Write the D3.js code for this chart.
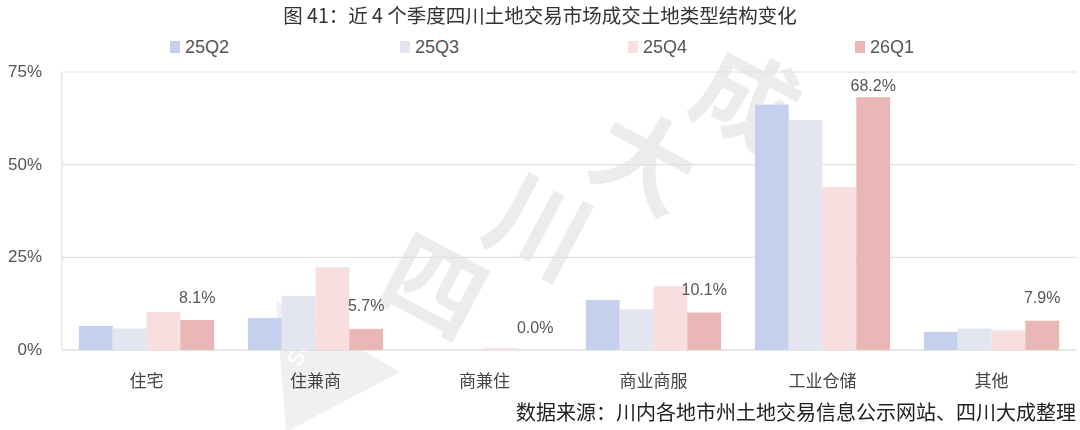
<!DOCTYPE html>
<html><head><meta charset="utf-8">
<script src="https://cdn.jsdelivr.net/npm/d3@7"></script>
<style>
html,body{margin:0;padding:0;background:#fff;}
svg{display:block;font-family:"Liberation Sans","Noto Sans CJK SC",sans-serif;}
</style></head>
<body><svg id="c" width="1080" height="430"></svg>
<script>
const categories = ["住宅","住兼商","商兼住","商业商服","工业仓储","其他"];
const seriesNames = ["25Q2","25Q3","25Q4","26Q1"];
const s25Q2 = [6.5, 8.6, 0.0, 13.5, 66.2, 4.9];
const s25Q3 = [5.8, 14.6, 0.2, 11.0, 62.0, 5.8];
const s25Q4 = [10.2, 22.3, 0.5, 17.2, 44.0, 5.3];
const s26Q1 = [8.1, 5.7, 0.0, 10.1, 68.2, 7.9];
const yTicks = [0, 25, 50, 75];
const colors = ["#c5d1ec", "#e3e5f1", "#f8dede", "#eab6b6"];
const seriesData = [s25Q2, s25Q3, s25Q4, s26Q1];
const watermarkChars = ["四","川","大","成"];

const svg = d3.select("#c");
const mLeft = 62, mRight = 1076, mTop = 72, mBottom = 350;

// watermark (faint logo)
const wm = svg.append("g").attr("fill", "#000").attr("opacity", 0.075);
wm.append("polygon").attr("points", "276,300 400,372 286,432").attr("opacity", 0.8);
wm.append("text").attr("transform", "translate(305,345) rotate(-62)")
  .attr("text-anchor", "middle").attr("dominant-baseline", "middle")
  .attr("font-size", 22).attr("font-weight", "bold").attr("fill", "#fff").attr("opacity", 0.9)
  .text("SCD");
const wmPos = [[430, 295], [535, 235], [640, 170], [742, 108]];
wm.selectAll("text.wc").data(watermarkChars).join("text").attr("class", "wc")
  .attr("transform", (d, i) => `translate(${wmPos[i][0]},${wmPos[i][1]}) rotate(28)`)
  .attr("text-anchor", "middle").attr("dominant-baseline", "middle")
  .attr("font-size", 100).attr("font-weight", "bold")
  .attr("font-family", "Noto Sans CJK SC")
  .text(d => d);

const x0 = d3.scaleBand().domain(categories).range([mLeft, mRight]).paddingInner(0.2).paddingOuter(0.1);
const x1 = d3.scaleBand().domain(seriesNames).range([0, x0.bandwidth()]);
const y = d3.scaleLinear().domain([0, 75]).range([mBottom, mTop]);

// grid
svg.append("g").selectAll("line").data(yTicks).join("line")
  .attr("x1", mLeft).attr("x2", mRight).attr("y1", d => y(d)).attr("y2", d => y(d))
  .attr("stroke", d => d === 0 ? "#cfcfcf" : "#e0e0e0").attr("stroke-width", 1.2);
// left axis line
svg.append("line").attr("x1", mLeft).attr("x2", mLeft).attr("y1", mTop).attr("y2", mBottom)
  .attr("stroke", "#e0e0e0").attr("stroke-width", 1.2);

// y labels
svg.append("g").selectAll("text").data(yTicks).join("text")
  .attr("x", 42).attr("y", d => y(d) - 1).attr("dy", "0.35em")
  .attr("text-anchor", "end").attr("font-size", 17).attr("fill", "#555")
  .text(d => d + "%");

// bars
seriesData.forEach((vals, si) => {
  svg.append("g").selectAll("rect").data(vals).join("rect")
    .attr("x", (d, i) => x0(categories[i]) + x1(seriesNames[si]))
    .attr("width", x1.bandwidth())
    .attr("y", d => y(d))
    .attr("height", d => mBottom - y(d))
    .attr("fill", colors[si]);
});

// labels for 26Q1
svg.append("g").selectAll("text").data(s26Q1).join("text")
  .attr("x", (d, i) => x0(categories[i]) + x1("26Q1") + x1.bandwidth() / 2)
  .attr("y", d => Math.max(y(d) - 23, 85)).attr("dy", "0.35em")
  .attr("text-anchor", "middle").attr("font-size", 16).attr("fill", "#555")
  .text(d => d.toFixed(1) + "%");

// category labels
svg.append("g").selectAll("text").data(categories).join("text")
  .attr("x", d => x0(d) + x0.bandwidth() / 2).attr("y", 381).attr("dy", "0.35em")
  .attr("text-anchor", "middle").attr("font-size", 17).attr("fill", "#444")
  .attr("font-family", "Noto Sans CJK SC")
  .text(d => d);

// legend
const legX = [170, 400, 628, 855];
const lg = svg.append("g").selectAll("g").data(seriesNames).join("g")
  .attr("transform", (d, i) => `translate(${legX[i]},47)`);
lg.append("rect").attr("x", 0).attr("y", -6).attr("width", 10).attr("height", 12)
  .attr("fill", (d, i) => colors[i]);
lg.append("text").attr("x", 15).attr("y", 0).attr("dy", "0.35em")
  .attr("font-size", 18).attr("fill", "#555").text(d => d);

// title
svg.append("text").attr("x", 540).attr("y", 16).attr("dy", "0.35em")
  .attr("text-anchor", "middle").attr("font-size", 19.5).attr("fill", "#333")
  .attr("font-family", "Noto Sans CJK SC")
  .text("图 41：近 4 个季度四川土地交易市场成交土地类型结构变化");

// source
svg.append("text").attr("x", 1076).attr("y", 413).attr("dy", "0.35em")
  .attr("text-anchor", "end").attr("font-size", 20).attr("fill", "#222")
  .attr("font-family", "Noto Sans CJK SC")
  .text("数据来源：川内各地市州土地交易信息公示网站、四川大成整理");
</script></body></html>
